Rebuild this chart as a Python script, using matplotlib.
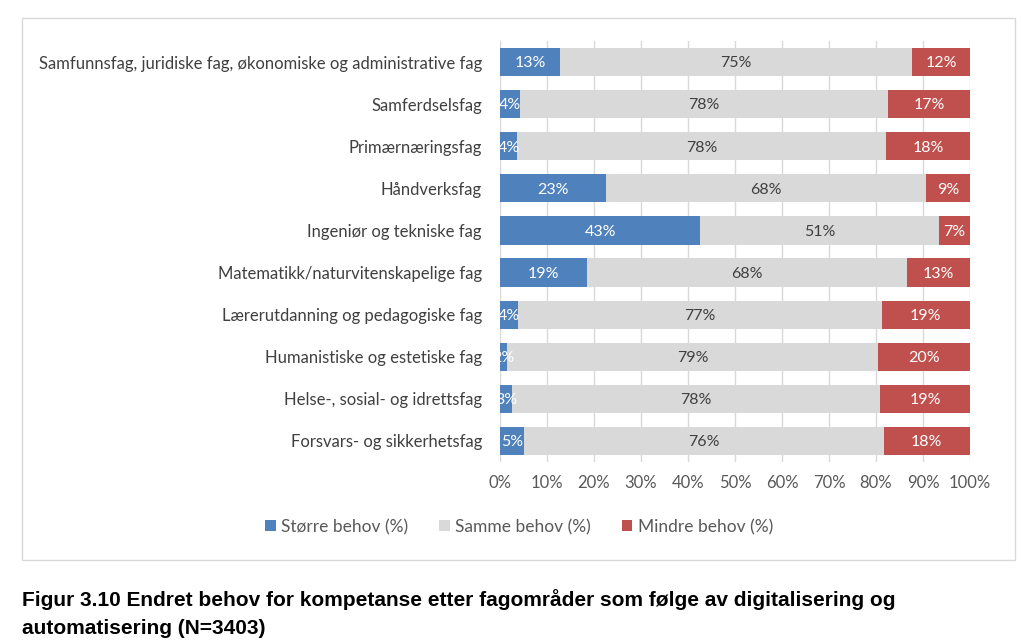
import numpy as np
import matplotlib
matplotlib.use('Agg')
import matplotlib.pyplot as plt
from matplotlib.patches import Rectangle

categories = [
    'Samfunnsfag, juridiske fag, økonomiske og administrative fag',
    'Samferdselsfag',
    'Primærnæringsfag',
    'Håndverksfag',
    'Ingeniør og tekniske fag',
    'Matematikk/naturvitenskapelige fag',
    'Lærerutdanning og pedagogiske fag',
    'Humanistiske og estetiske fag',
    'Helse-, sosial- og idrettsfag',
    'Forsvars- og sikkerhetsfag',
]
storre = [12.8, 4.3, 3.6, 22.6, 42.6, 18.6, 3.8, 1.5, 2.6, 5.1]
samme = [74.9, 78.3, 78.5, 68.0, 50.8, 68.0, 77.4, 78.9, 78.3, 76.5]
mindre = [12.3, 17.4, 17.9, 9.4, 6.6, 13.4, 18.8, 19.6, 19.1, 18.4]
series_names = ['Større behov (%)', 'Samme behov (%)', 'Mindre behov (%)']
colors = ['#4F81BD', '#D9D9D9', '#C0504D']
label_colors = ['white', '#404040', 'white']
xticks = [0, 10, 20, 30, 40, 50, 60, 70, 80, 90, 100]

plt.rcParams['font.family'] = ['Lato', 'DejaVu Sans']

fig = plt.figure(figsize=(10.23, 6.42), dpi=100)
fig.patches.append(Rectangle((22 / 1023, 1 - 560 / 642), 993 / 1023, 542 / 642,
                             transform=fig.transFigure, fill=False,
                             edgecolor='#D9D9D9', linewidth=1.0))

ax = fig.add_axes([500 / 1023, 1 - 462 / 642, 470 / 1023, 421 / 642])
y = np.arange(len(categories))
left = np.zeros(len(categories))
for vals, name, col, lc in zip([storre, samme, mindre], series_names, colors, label_colors):
    vals = np.array(vals)
    ax.barh(y, vals, left=left, height=0.67, color=col, label=name, zorder=2)
    for yi, l, v in zip(y, left, vals):
        ax.text(l + v / 2, yi + 0.03, f'{round(v):.0f}%', ha='center', va='center',
                color=lc, fontsize=11.5, zorder=3)
    left = left + vals

ax.set_xlim(0, 100)
ax.set_ylim(len(categories) - 0.5, -0.5)
ax.set_xticks(xticks)
ax.set_xticklabels([f'{t}%' for t in xticks], fontsize=12, color='#595959')
ax.set_yticks(y)
ax.set_yticklabels(categories, fontsize=12, color='#404040')
ax.tick_params(length=0, pad=9)
ax.tick_params(axis='y', pad=13)
ax.grid(axis='x', color='#D9D9D9', linewidth=1, zorder=0)
for s in ax.spines.values():
    s.set_visible(False)

ax.legend(loc='center', bbox_to_anchor=(519 / 1023, 1 - 527 / 642),
          bbox_transform=fig.transFigure, ncol=3, frameon=False,
          handlelength=0.6, handleheight=0.6, columnspacing=1.8,
          handletextpad=0.3, prop={'size': 12.5}, labelcolor='#595959')

fig.text(22 / 1023, 1 - 600 / 642, 'Figur 3.10 Endret behov for kompetanse etter fagområder som følge av digitalisering og',
         fontsize=15, fontweight='bold', family='Liberation Sans', va='center')
fig.text(22 / 1023, 1 - 628 / 642, 'automatisering (N=3403)',
         fontsize=15, fontweight='bold', family='Liberation Sans', va='center')

fig.savefig('out.png', dpi=100, facecolor='white')
